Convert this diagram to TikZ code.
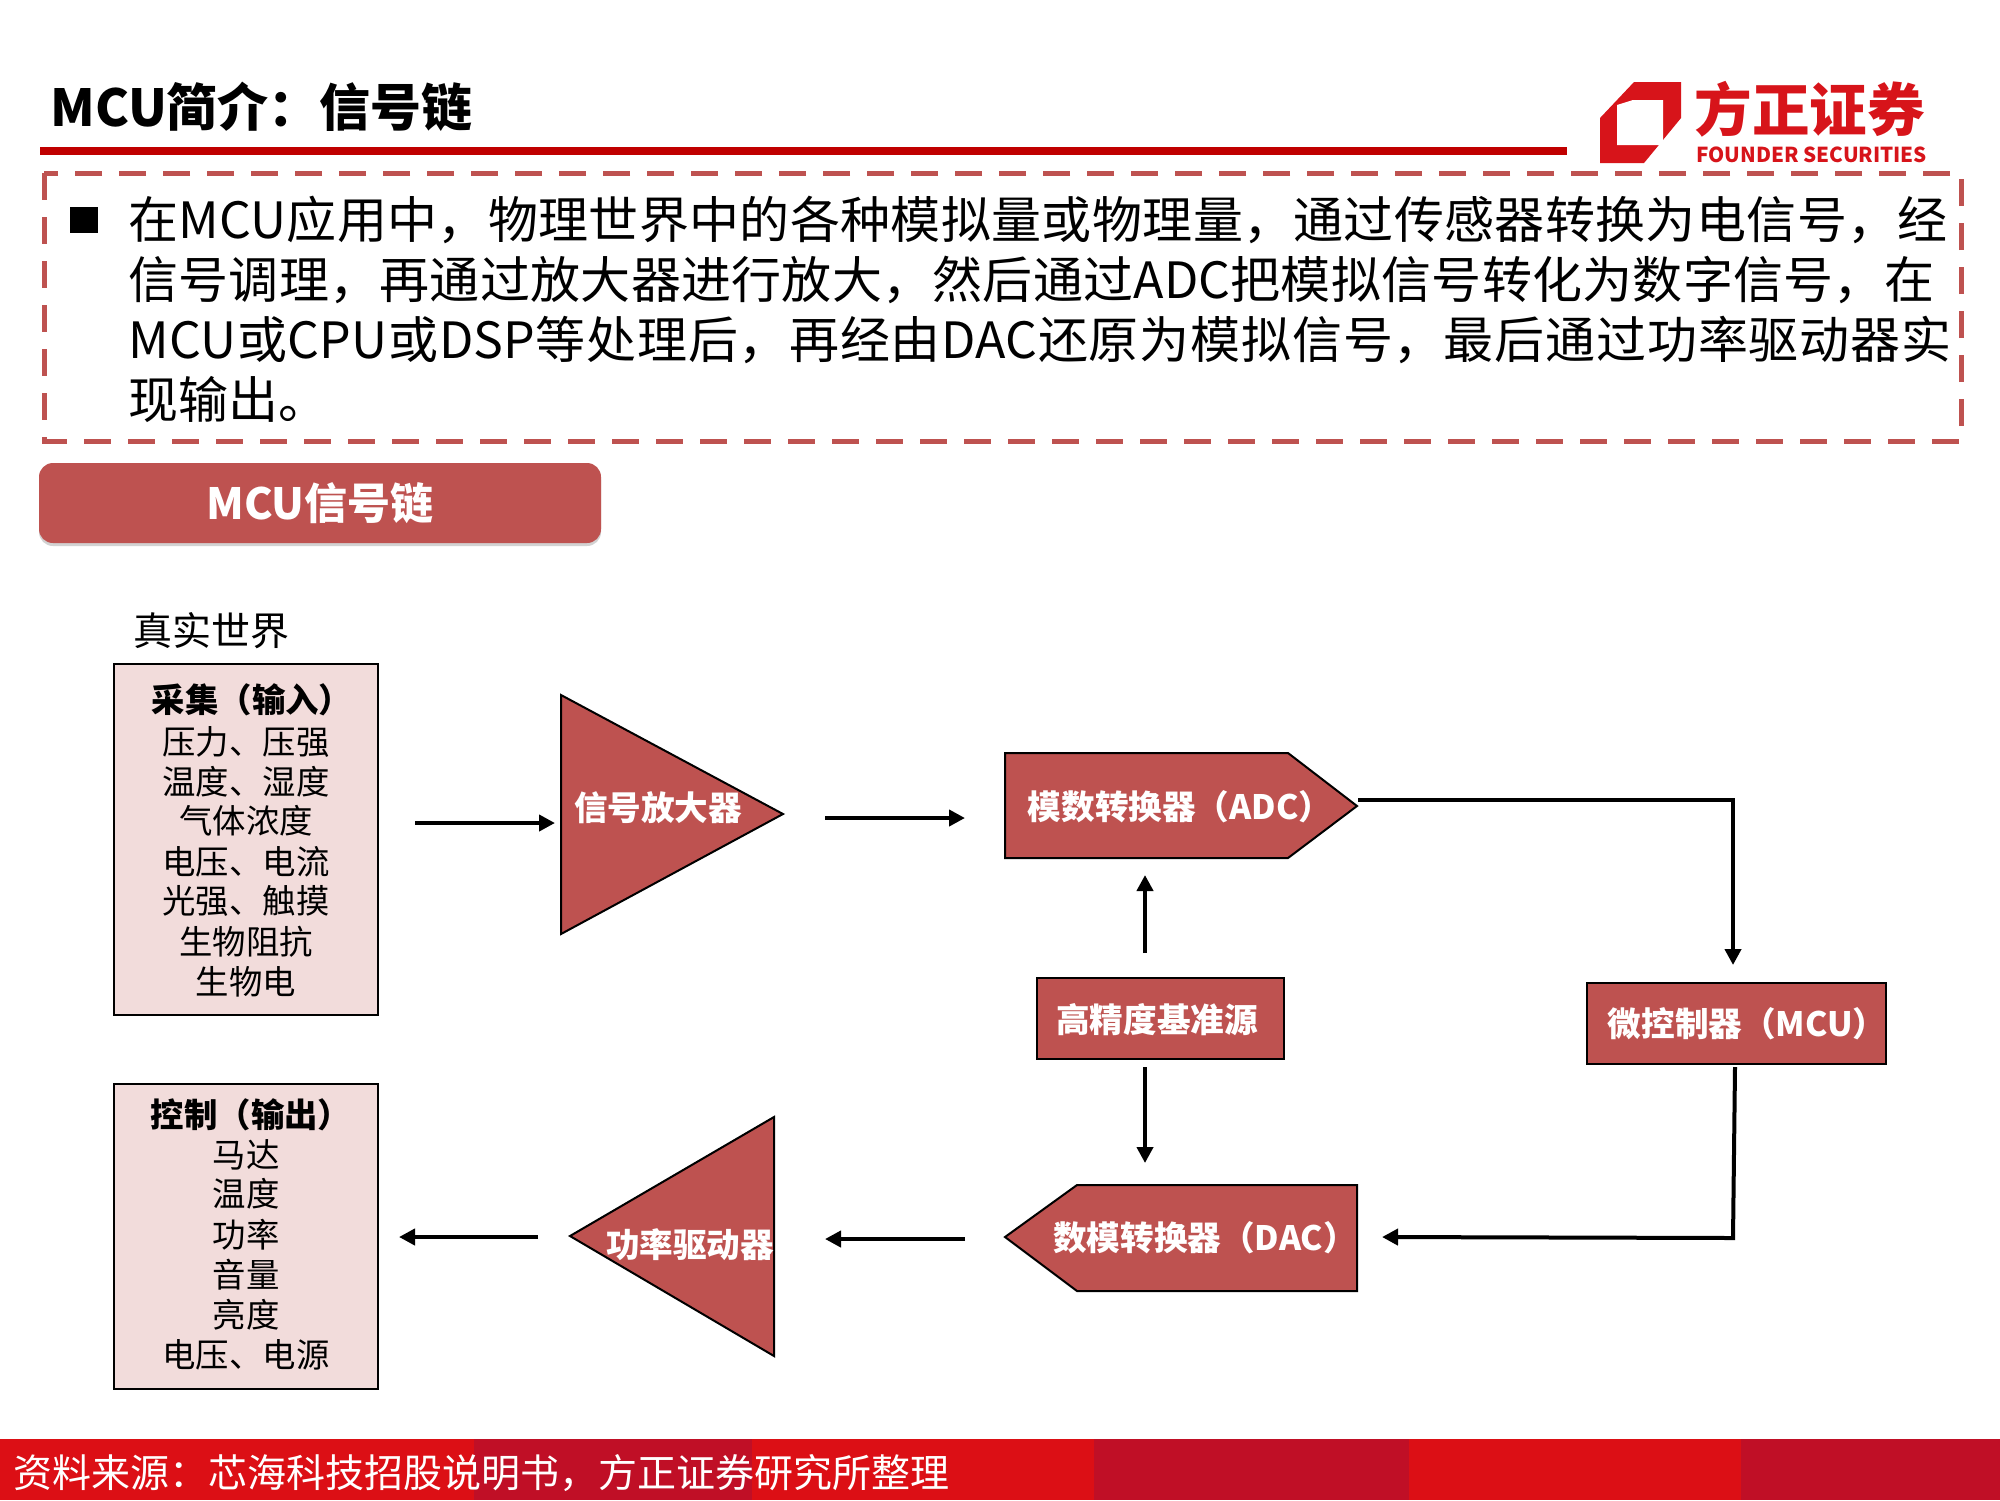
\documentclass[tikz,border=0pt]{standalone}
\usepackage{fontspec}
\setmainfont{Noto Sans CJK SC}
\usetikzlibrary{arrows.meta,shadows}
\XeTeXlinebreaklocale "zh"
\XeTeXlinebreakskip=0pt plus 2pt minus 0.5pt
\definecolor{brick}{HTML}{BE5250}
\definecolor{dashred}{HTML}{BE5250}
\definecolor{rulered}{HTML}{C00000}
\definecolor{logored}{HTML}{D7141A}
\definecolor{pinkfill}{HTML}{F2DCDB}
\definecolor{footA}{HTML}{DC0F15}
\definecolor{footB}{HTML}{C00F26}
\newcommand{\fs}[1]{\fontsize{#1}{#1}\selectfont}
\tikzset{
  flow/.style={draw=black,line width=2pt,-{Triangle[length=8pt,width=8pt]}},
  chip/.style={fill=brick,draw=black,line width=1pt},
  chiptext/.style={inner sep=0pt,text=white,font=\fs{16.8}\bfseries},
  listbox/.style={fill=pinkfill,draw=black,line width=0.9pt},
  listtext/.style={inner sep=0pt,align=center,font=\fs{16.7}},
}
\begin{document}
\begin{tikzpicture}[x=0.5pt,y=-0.5pt]
\useasboundingbox (0,0) rectangle (2000,1500);
\fill[white] (0,0) rectangle (2000,1500);
% title
\node[anchor=west,inner sep=0pt,font=\fs{25.5}\bfseries] (title) at (50,107) {MCU简介：信号链};
\fill[rulered] (40,147) rectangle (1567,155);
% logo
\fill[logored] (1634,82) -- (1681,82) -- (1681,118) -- (1644,163) -- (1600,163) -- (1600,118) -- cycle;
\fill[white] (1617,105) -- (1633,100) -- (1663,100) -- (1663,145) -- (1617,145) -- cycle;
\node[anchor=west,inner sep=0pt,text=logored,font=\fs{28.8}\bfseries] (logocn) at (1694,109) {方正证券};
\node[anchor=west,inner sep=0pt,text=logored,font=\fs{10.3}\bfseries] (logoen) at (1696,155) {FOUNDER SECURITIES};
% dashed box
\draw[dashred,line width=2.5pt,dash pattern=on 13.5pt off 8.5pt] (44,173) rectangle (1961,441);
% body
\fill[black] (70,207) rectangle (98,233);
\node[anchor=north west,inner sep=0pt,text width=923pt,font=\fontsize{25}{30}\selectfont] (body) at (128,196) {%
\parshape=4 0pt 914pt 0pt 906.5pt 0pt 922pt 0pt 923pt
\noindent 在MCU应用中，物理世界中的各种模拟量或物理量，通过传感器转换为电信号，经\linebreak[4]
信号调理，再通过放大器进行放大，然后通过ADC把模拟信号转化为数字信号，在\linebreak[4]
MCU或CPU或DSP等处理后，再经由DAC还原为模拟信号，最后通过功率驱动器实\linebreak[4]
现输出。\par};
% button
\node[fill=brick,rounded corners=7pt,minimum width=281pt,minimum height=40pt,inner sep=0pt,
  drop shadow={shadow xshift=0pt,shadow yshift=-1.5pt,opacity=.35},
  text=white,font=\fs{21.5}\bfseries] (btn) at (320,503) {MCU信号链};
% real world
\node[anchor=west,inner sep=0pt,font=\fs{19.5}] (real) at (133,631) {真实世界};
% input box
\draw[listbox] (114,664) rectangle (378,1015);
\node[listtext] (in1) at (252,700) {\bfseries 采集（输入）};
\node[listtext] (in2) at (246,742) {压力、压强};
\node[listtext] (in3) at (246,782) {温度、湿度};
\node[listtext] (in4) at (246,821) {气体浓度};
\node[listtext] (in5) at (246,862) {电压、电流};
\node[listtext] (in6) at (246,901) {光强、触摸};
\node[listtext] (in7) at (246,942) {生物阻抗};
\node[listtext] (in8) at (246,982) {生物电};
% output box
\draw[listbox] (114,1084) rectangle (378,1389);
\node[listtext] (out1) at (251,1115) {\bfseries 控制（输出）};
\node[listtext] (out2) at (246,1155) {马达};
\node[listtext] (out3) at (246,1194) {温度};
\node[listtext] (out4) at (246,1235) {功率};
\node[listtext] (out5) at (246,1275) {音量};
\node[listtext] (out6) at (246,1315) {亮度};
\node[listtext] (out7) at (246,1355) {电压、电源};
% chips
\draw[chip] (561,695) -- (783,814) -- (561,934) -- cycle;
\node[chiptext] (amp) at (658,808) {信号放大器};
\draw[chip] (1005,753) -- (1288,753) -- (1357,806) -- (1288,858) -- (1005,858) -- cycle;
\node[chiptext] (adc) at (1180,807) {模数转换器（ADC）};
\draw[chip] (1587,983) rectangle (1886,1064);
\node[chiptext] (mcu) at (1747,1024) {微控制器（MCU）};
\draw[chip] (1037,978) rectangle (1284,1059);
\node[chiptext] (ref) at (1157,1020) {高精度基准源};
\draw[chip] (1005,1237) -- (1077,1185) -- (1357,1185) -- (1357,1291) -- (1077,1291) -- cycle;
\node[chiptext] (dac) at (1205,1238) {数模转换器（DAC）};
\draw[chip] (570,1236) -- (774,1117) -- (774,1356) -- cycle;
\node[chiptext] (pwr) at (690,1245) {功率驱动器};
% connector ends
\coordinate (a1s) at (415,823); \coordinate (a1e) at (555,823);
\coordinate (a2s) at (825,818); \coordinate (a2e) at (965,818);
\coordinate (a3s) at (1358,800); \coordinate (a3m) at (1733,800); \coordinate (a3e) at (1733,965);
\coordinate (a4s) at (1145,953); \coordinate (a4e) at (1145,875);
\coordinate (a5s) at (1145,1067); \coordinate (a5e) at (1145,1163);
\coordinate (a6s) at (1735,1067); \coordinate (a6m) at (1733,1238); \coordinate (a6e) at (1382,1237);
\coordinate (a7s) at (965,1239); \coordinate (a7e) at (825,1239);
\coordinate (a8s) at (538,1237); \coordinate (a8e) at (399,1237);
\draw[flow] (a1s) -- (a1e);
\draw[flow] (a2s) -- (a2e);
\draw[flow] (a3s) -- (a3m) -- (a3e);
\draw[flow] (a4s) -- (a4e);
\draw[flow] (a5s) -- (a5e);
\draw[flow] (a6s) -- (a6m) -- (a6e);
\draw[flow] (a7s) -- (a7e);
\draw[flow] (a8s) -- (a8e);
% footer
\fill[footA] (0,1439) rectangle (474,1500);
\fill[footB] (474,1439) rectangle (752,1500);
\fill[footA] (752,1439) rectangle (1094,1500);
\fill[footB] (1094,1439) rectangle (1409,1500);
\fill[footA] (1409,1439) rectangle (1741,1500);
\fill[footB] (1741,1439) rectangle (2000,1500);
\node[anchor=west,inner sep=0pt,text=white,font=\fs{19.5}] (src) at (13,1473) {资料来源：芯海科技招股说明书，方正证券研究所整理};
\end{tikzpicture}
\end{document}
